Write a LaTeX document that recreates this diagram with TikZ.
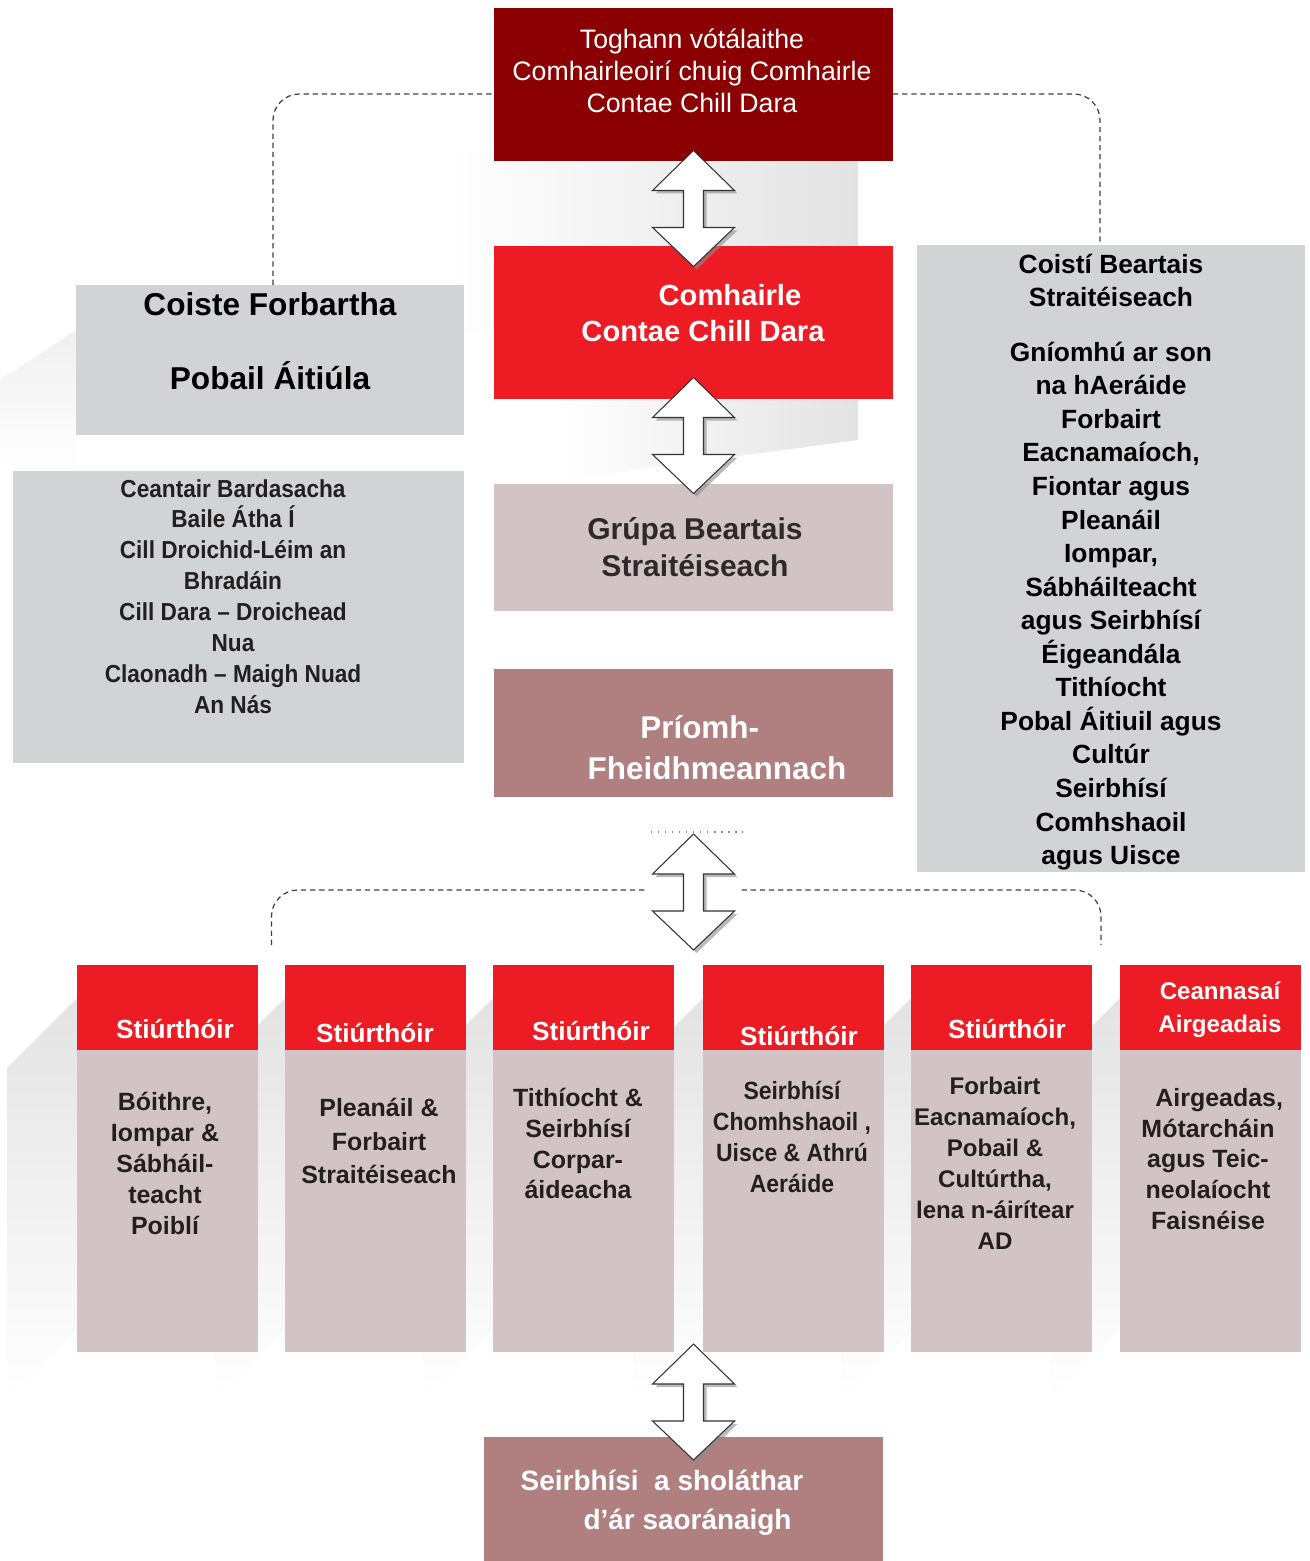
\documentclass[tikz,border=0pt]{standalone}
\usepackage{fontspec}
\setmainfont{Liberation Sans}
\newfontfamily\narrowsans[FakeStretch=0.92]{Liberation Sans}
\usepackage{tikz}
\usetikzlibrary{calc}

\definecolor{kildarered}{RGB}{139,0,2}
\definecolor{councilred}{RGB}{237,28,36}
\definecolor{paleplum}{RGB}{210,195,198}
\definecolor{dustyplum}{RGB}{176,127,128}
\definecolor{panelgrey}{RGB}{209,211,212}
\definecolor{inkgrey}{RGB}{35,31,32}

\newcommand{\pxl}{0.02cm}
\newcommand{\dblarrow}[1]{%
  \fill[arrowshadow] ($(#1)+(3,-55)$) -- ++(41,40) -- ++(-31,0) -- ++(0,37) -- ++(31,0)
    -- ++(-41,39) -- ++(-41,-39) -- ++(31,0) -- ++(0,-37) -- ++(-31,0) -- cycle;
  \draw[arrowbody] ($(#1)+(0,-58)$) -- ++(41,40) -- ++(-31,0) -- ++(0,37) -- ++(31,0)
    -- ++(-41,39) -- ++(-41,-39) -- ++(31,0) -- ++(0,-37) -- ++(-31,0) -- cycle;
}

\begin{document}
\begin{tikzpicture}[x=0.02cm, y=-0.02cm]
\tikzset{box/.style 2 args = {rectangle, inner sep=0pt, outer sep=0pt, minimum width=#1*\pxl, minimum height=#2*\pxl}}
\tikzset{lbl/.style = {align=center, inner sep=0pt}}
\tikzset{whitebold/.style 2 args = {lbl, text=white, font=\fontsize{#1}{#2}\selectfont\bfseries}}
\tikzset{head/.style = {lbl, text=white, font=\fontsize{14.9}{18.8}\selectfont\bfseries}}
\tikzset{body/.style = {lbl, text=inkgrey, font=\fontsize{14.2}{17.6}\selectfont\bfseries}}
\tikzset{dashline/.style = {black!75, line width=0.7pt, dash pattern=on 3pt off 2.2pt, rounded corners=15}}
\tikzset{dotline/.style = {black!45, line width=0.8pt, dash pattern=on 1pt off 3pt}}
\tikzset{arrowbody/.style = {fill=white, draw=black!80, line width=0.6pt, line join=miter}}
\tikzset{arrowshadow/.style = {black!45, opacity=0.6}}
\tikzset{backdrop/.style = {top color=black!11, bottom color=white}}
\tikzset{sidefade/.style = {left color=white, right color=black!11}}
\useasboundingbox (0,0) rectangle (1309,1561);
% faint backdrops
\shade[sidefade] (448,150) -- (858,150) -- (858,273) -- (448,335) -- cycle;
\shade[sidefade] (560,400) -- (858,400) -- (858,440) -- (560,480) -- cycle;
\shade[backdrop, top color=black!6] (0,380) -- (76,330) -- (76,470) -- (0,470) -- cycle;
\shade[backdrop] (7,1068) -- (77,998) -- (77,1330) -- (7,1400) -- cycle;
\shade[backdrop] (215,1068) -- (285,998) -- (285,1330) -- (215,1400) -- cycle;
\shade[backdrop] (423,1068) -- (493,998) -- (493,1330) -- (423,1400) -- cycle;
\shade[backdrop] (633,1068) -- (703,998) -- (703,1330) -- (633,1400) -- cycle;
\shade[backdrop] (841,1068) -- (911,998) -- (911,1330) -- (841,1400) -- cycle;
\shade[backdrop] (1050,1068) -- (1120,998) -- (1120,1330) -- (1050,1400) -- cycle;
% middle boxes
\node[box={399}{153}, fill=kildarered] (toghann) at (693.5,84.5) {};
\node[box={399}{153}, fill=councilred] (comhairle) at (693.5,322.5) {};
\node[box={399}{127}, fill=paleplum] (grupa) at (693.5,547.5) {};
\node[box={399}{128}, fill=dustyplum] (priomh) at (693.5,733) {};
\node[box={399}{124}, fill=dustyplum] (seirbhis) at (683.5,1499) {};
% side boxes
\node[box={388}{150}, fill=panelgrey] (coiste) at (270,360) {};
\node[box={451}{292}, fill=panelgrey] (ceantair) at (238.5,617) {};
\node[box={388}{627}, fill=panelgrey] (coisti) at (1111,558.5) {};
% directorates
\node[box={181}{85}, fill=councilred] (hd1) at (167.5,1007.5) {};
\node[box={181}{302}, fill=paleplum] (bd1) at (167.5,1201) {};
\node[box={181}{85}, fill=councilred] (hd2) at (375.5,1007.5) {};
\node[box={181}{302}, fill=paleplum] (bd2) at (375.5,1201) {};
\node[box={181}{85}, fill=councilred] (hd3) at (583.5,1007.5) {};
\node[box={181}{302}, fill=paleplum] (bd3) at (583.5,1201) {};
\node[box={181}{85}, fill=councilred] (hd4) at (793.5,1007.5) {};
\node[box={181}{302}, fill=paleplum] (bd4) at (793.5,1201) {};
\node[box={181}{85}, fill=councilred] (hd5) at (1001.5,1007.5) {};
\node[box={181}{302}, fill=paleplum] (bd5) at (1001.5,1201) {};
\node[box={181}{85}, fill=councilred] (hd6) at (1210.5,1007.5) {};
\node[box={181}{302}, fill=paleplum] (bd6) at (1210.5,1201) {};
% texts
\node[lbl, text=white, font=\fontsize{15.2}{18.2}\selectfont] (toghanntxt) at (692,71)
  {Toghann vótálaithe\\Comhairleoirí chuig Comhairle\\Contae Chill Dara};
\node[whitebold={16.6}{20.5}] (comhairletxt) at (703,313) {\hspace*{1.85em}Comhairle\\Contae Chill Dara};
\node[lbl, text=inkgrey!95, font=\fontsize{17.1}{21}\selectfont\bfseries] (grupatxt) at (695,547.5)
  {Grúpa Beartais\\Straitéiseach};
\node[whitebold={17.9}{23.3}] (priomhtxt) at (717,747.5) {Príomh-\hspace*{1.1em}\\Fheidhmeannach};
\node[whitebold={15.9}{22}] (seirbhistxt) at (662,1502.5) {Seirbhísi \ a sholáthar\\\hspace*{1.83em}d’ár saoránaigh};
\node[lbl, text=black, font=\fontsize{18}{21}\selectfont\bfseries] (coistetxt) at (270,341)
  {Coiste Forbartha\\[21pt]Pobail Áitiúla};
\node[lbl, text=inkgrey, font=\fontsize{14}{17.6}\selectfont\narrowsans\bfseries] (ceantairtxt) at (233,596.5)
  {Ceantair Bardasacha\\Baile Átha Í\\Cill Droichid-Léim an\\Bhradáin\\Cill Dara – Droichead\\Nua\\Claonadh – Maigh Nuad\\An Nás};
\node[lbl, text=black, font=\fontsize{15}{19.1}\selectfont\bfseries] (coistitxt) at (1111,562)
  {Coistí Beartais\\Straitéiseach\\[12pt]Gníomhú ar son\\na hAeráide\\Forbairt\\Eacnamaíoch,\\Fiontar agus\\Pleanáil\\Iompar,\\Sábháilteacht\\agus Seirbhísí\\Éigeandála\\Tithíocht\\Pobal Áitiuil agus\\Cultúr\\Seirbhísí\\Comhshaoil\\agus Uisce};
% directorate texts
\node[head] (hd1txt) at (175,1029) {Stiúrthóir};
\node[head] (hd2txt) at (375,1033) {Stiúrthóir};
\node[head] (hd3txt) at (591,1031) {Stiúrthóir};
\node[head] (hd4txt) at (799,1036) {Stiúrthóir};
\node[head] (hd5txt) at (1007,1029) {Stiúrthóir};
\node[head, font=\fontsize{13.7}{18.8}\selectfont\bfseries] (hd6txt) at (1220,1009.5) {Ceannasaí\\Airgeadais};
\node[body] (bd1txt) at (165,1163.5) {Bóithre,\\Iompar \&\\Sábháil-\\teacht\\Poiblí};
\node[body, font=\fontsize{14.2}{19.3}\selectfont\bfseries] (bd2txt) at (379,1141) {Pleanáil \&\\Forbairt\\Straitéiseach};
\node[body] (bd3txt) at (578,1143.5) {Tithíocht \&\\Seirbhísí\\Corpar-\\áideacha};
\node[body, font=\fontsize{14.2}{17.8}\selectfont\narrowsans\bfseries] (bd4txt) at (792,1137)
  {Seirbhísí\\Chomhshaoil ,\\Uisce \& Athrú\\Aeráide};
\node[body, font=\fontsize{13.7}{17.6}\selectfont\bfseries] (bd5txt) at (995,1163.5)
  {Forbairt\\Eacnamaíoch,\\Pobail \&\\Cultúrtha,\\lena n-áirítear\\AD};
\node[body] (bd6txt) at (1208,1159) {\hspace*{0.9em}Airgeadas,\\Mótarcháin\\agus Teic-\\neolaíocht\\Faisnéise};
% arrow positions
\coordinate (a1) at ($(toghann.south)!0.5!(comhairle.north)+(0,5)$);
\coordinate (a2) at ($(comhairle.south)!0.5!(grupa.north)+(0,-6)$);
\coordinate (a3) at ($(priomh.south)!0.5!(priomh.south |- hd4.north)+(0,11)$);
\coordinate (a4) at ($(seirbhis.north)+(10,-35)$);
% dashed links
\draw[dashline] ($(coiste.north)+(3,0)$) |- ($(toghann.west)+(0,9.5)$);
\draw[dashline] ($(toghann.east)+(0,9.5)$) -| ($(coisti.north)+(-11,0)$);
\draw[dashline] ($(hd1.north east)!0.5!(hd2.north west)+(0,-20)$) |- ($(a3)+(-48,-2)$);
\draw[dashline] ($(a3)+(48,-2)$) -| ($(hd5.north east)!0.5!(hd6.north west)+(-5,-20)$);
\draw[dotline] ($(a3)+(-43,-60)$) -- ($(a3)+(49,-60)$);
% arrows
\dblarrow{a1}
\dblarrow{a2}
\dblarrow{a3}
\dblarrow{a4}
\end{tikzpicture}
\end{document}
